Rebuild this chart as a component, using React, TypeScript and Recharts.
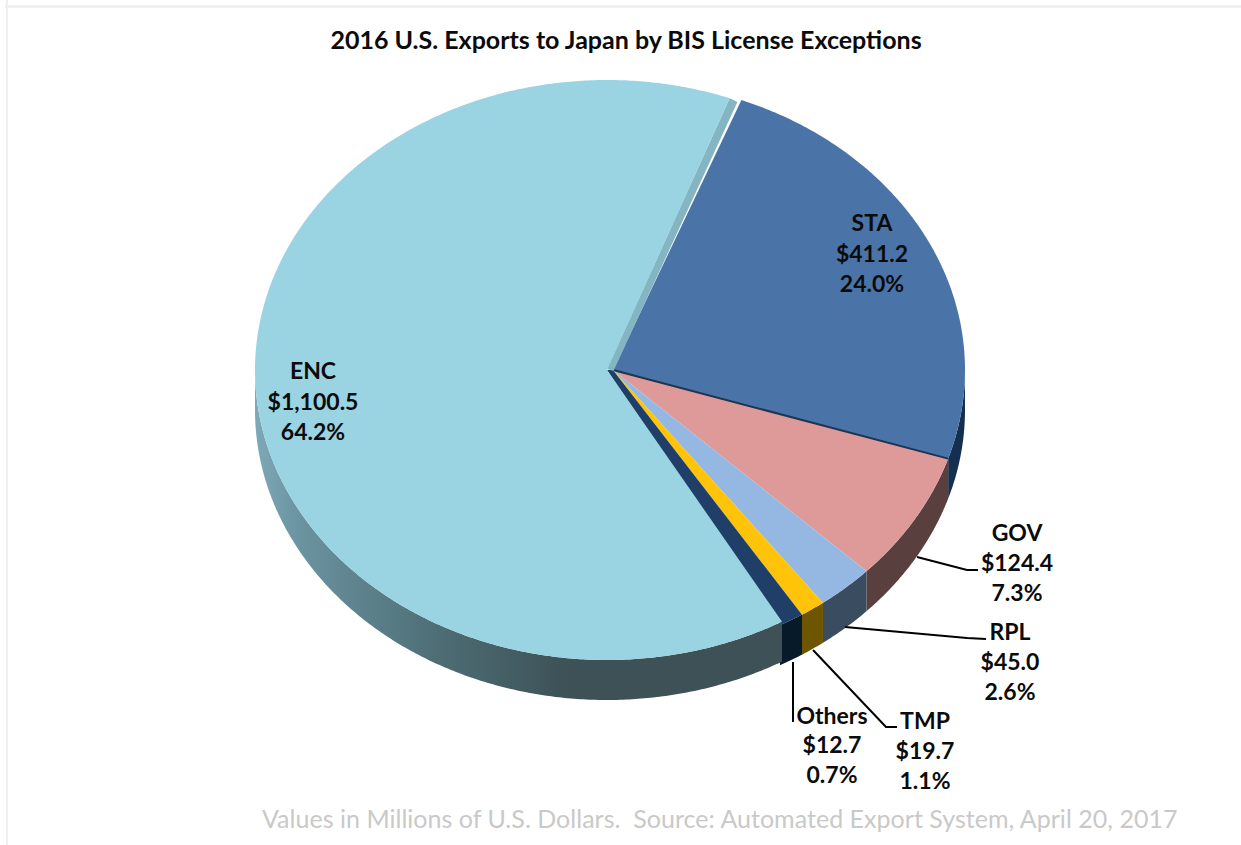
import React from "react";
import { PieChart, Pie } from "recharts";

const categories = ["STA", "GOV", "RPL", "TMP", "Others", "ENC"];
const values = [411.2, 124.4, 45.0, 19.7, 12.7, 1100.5];
const valueLabels = ["$411.2", "$124.4", "$45.0", "$19.7", "$12.7", "$1,100.5"];
const shareLabels = ["24.0%", "7.3%", "2.6%", "1.1%", "0.7%", "64.2%"];
const chartData = categories.map((name, i) => ({ name, value: values[i] }));

const topColors = ["#4A74A8", "#DE9A99", "#95B8E3", "#FFC309", "#1F3F68", "#9AD3E2"];
const wallColors = ["#142F50", "#5A3F3F", "#3A4C60", "#6E5500", "#061A2A", "url(#encWall)"];

const CX = 610;
const CY = 370;
const RX = 352;
const RY_RATIO = 290 / 352;
const DEPTH = 40;
const FONT = "Lato, 'Open Sans', sans-serif";

// x, y of each of the three label lines' centres
const labelBoxes = [
  { x: 872, ys: [222, 253, 283] },
  { x: 1017, ys: [532, 562, 592] },
  { x: 1010, ys: [631, 661, 691] },
  { x: 925, ys: [720, 750, 780] },
  { x: 832, ys: [715, 744, 774] },
  { x: 313, ys: [370, 401, 431] },
];
const leaders = [
  "",
  "917,557 967,570 978,570",
  "845,627 967,638 986,639",
  "813,650 886,727 897,727",
  "793,662 793,722",
  "",
];

const rad = (d: number) => (d * Math.PI) / 180;

function Slice3D(props: any) {
  const { cx, cy, outerRadius, startAngle, endAngle, name } = props;
  const i = categories.indexOf(name);
  const isEnc = name === "ENC";
  const isOthers = name === "Others";
  const ox = cx + (isEnc ? -3 : 3);
  const oy = cy;
  const rx = outerRadius;
  const ry = outerRadius * RY_RATIO;
  const pt = (a: number, dy = 0) => [ox + rx * Math.cos(rad(a)), oy - ry * Math.sin(rad(a)) + dy];
  const step = 0.5;
  const lo = Math.min(startAngle, endAngle) - (isOthers ? 1.5 : 0);
  const hi = Math.max(startAngle, endAngle);
  const topStart = isEnc ? lo + 1 : lo;
  const topEnd = hi;
  const arc: number[][] = [];
  for (let a = topStart; a < topEnd; a += step) arc.push(pt(a));
  arc.push(pt(topEnd));
  const apexX = isOthers ? ox - 6 : ox;
  const topPath =
    `M${apexX},${oy} ` +
    arc.map((p) => `L${p[0]},${p[1]}`).join(" ") +
    ` L${ox},${oy} Z`;

  const lower: number[] = [];
  for (let a = lo; a < hi; a += step) if (Math.sin(rad(a)) <= 0) lower.push(a);
  if (Math.sin(rad(hi)) <= 0) lower.push(hi);
  const wall =
    lower.length > 1
      ? lower.map((a) => pt(a)).concat(lower.slice().reverse().map((a) => pt(a, DEPTH)))
      : [];
  const wallPath = wall.length
    ? "M" + wall.map((p) => `${p[0]},${p[1]}`).join(" L") + " Z"
    : "";

  let strip = null;
  if (isEnc) {
    const outer = pt(lo);
    const inner = pt(lo + 1);
    strip = (
      <polygon
        points={`${ox},${oy - 1} ${ox + 6.5},${oy + 1} ${outer[0] + 2},${outer[1] + 2} ${inner[0]},${inner[1]}`}
        fill="#84B5C2"
      />
    );
  }
  const edge = pt(hi);
  return (
    <g>
      {isEnc && (
        <defs>
          <linearGradient id="encWall" gradientUnits="userSpaceOnUse" x1="255" y1="0" x2="570" y2="0">
            <stop offset="0" stopColor="#7EA9B8" />
            <stop offset="0.15" stopColor="#6A929F" />
            <stop offset="0.46" stopColor="#557881" />
            <stop offset="0.62" stopColor="#4C6A72" />
            <stop offset="1" stopColor="#3D5156" />
          </linearGradient>
        </defs>
      )}
      {wallPath && <path d={wallPath} fill={wallColors[i]} stroke="none" />}
      {strip}
      <path d={topPath} fill={topColors[i]} stroke="none" />
      {name === "GOV" && (
        <line x1={ox} y1={oy} x2={edge[0]} y2={edge[1]} stroke="#1B3553" strokeWidth={2} />
      )}
    </g>
  );
}

function SliceLabel(props: any) {
  const i = props.index;
  const box = labelBoxes[i];
  const lines = [categories[i], valueLabels[i], shareLabels[i]];
  return (
    <g>
      {leaders[i] && <polyline points={leaders[i]} fill="none" stroke="#000" strokeWidth={2} />}
      {lines.map((t, k) => (
        <text
          key={k}
          x={box.x}
          y={box.ys[k]}
          textAnchor="middle"
          dominantBaseline="central"
          fontFamily={FONT}
          fontWeight={700}
          fontSize={23}
          fill="#0b0b0b"
        >
          {t}
        </text>
      ))}
    </g>
  );
}

export default function App() {
  return (
    <div
      style={{
        position: "absolute",
        left: 0,
        top: 0,
        width: 1241,
        height: 845,
        overflow: "hidden",
        background: "#fff",
      }}
    >
      <div style={{ position: "absolute", left: 5, top: 5, width: 1236, height: 3, background: "#F0F0F0" }} />
      <div style={{ position: "absolute", left: 6, top: 0, width: 2, height: 845, background: "#F0F0F0" }} />
      <div
        style={{
          position: "absolute",
          left: 0,
          width: 1252,
          top: 25,
          textAlign: "center",
          fontFamily: FONT,
          fontWeight: 700,
          fontSize: 25,
          lineHeight: "28px",
          color: "#0b0b0b",
          whiteSpace: "pre",
        }}
      >
        2016 U.S. Exports to Japan by BIS License Exceptions
      </div>
      <PieChart
        width={1241}
        height={845}
        margin={{ top: 0, right: 0, bottom: 0, left: 0 }}
        style={{ position: "absolute", left: 0, top: 0 }}
      >
        <Pie
          data={chartData}
          dataKey="value"
          nameKey="name"
          cx={CX}
          cy={CY}
          outerRadius={RX}
          innerRadius={0}
          startAngle={68.6}
          endAngle={68.6 - 360}
          paddingAngle={0}
          stroke="none"
          isAnimationActive={false}
          shape={Slice3D}
          label={SliceLabel}
          labelLine={false}
        />
      </PieChart>
      <div
        style={{
          position: "absolute",
          left: 262,
          top: 802,
          fontFamily: FONT,
          fontSize: 25,
          letterSpacing: 0.025,
          lineHeight: "32px",
          color: "#C9C9C9",
          whiteSpace: "pre",
        }}
      >
        {"Values in Millions of U.S. Dollars.  Source: Automated Export System, April 20, 2017"}
      </div>
    </div>
  );
}
